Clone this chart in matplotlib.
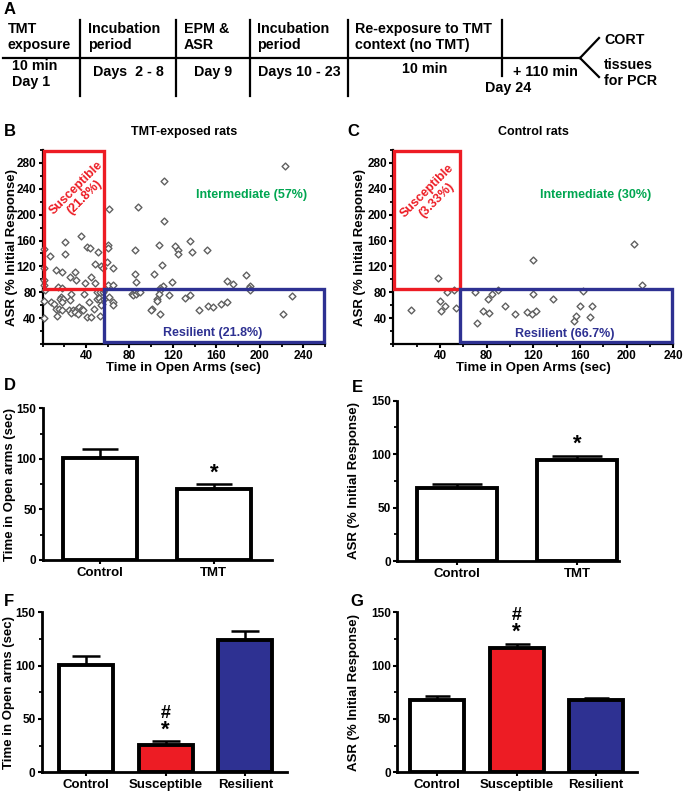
import matplotlib
matplotlib.use("Agg")
import matplotlib.pyplot as plt
from matplotlib.patches import Rectangle
import numpy as np

plt.rcParams['font.family'] = ['Liberation Sans', 'DejaVu Sans']
plt.rcParams['font.weight'] = 'bold'
plt.rcParams['axes.labelweight'] = 'bold'
plt.rcParams['axes.titleweight'] = 'bold'

# ---------------- data ----------------
# Panel B: TMT-exposed rats (time in open arms, ASR %)
tmt_time = [1, 7, 21, 21, 35, 41, 44, 51, 48, 54, 56, 12, 18, 30, 25, 31, 45, 39, 48, 14, 18, 1, 1, 1,
            60, 60, 61, 59, 65, 60, 65, 88, 112, 112, 107, 85, 122, 125, 125, 110, 85, 103, 86, 119, 111,
            223, 136, 138, 151, 187, 170, 175, 191, 108, 190,
            2, 26, 38, 50, 53, 56, 57, 17, 16, 19, 18, 25, 43, 50, 52, 54, 55, 57, 1, 8, 11, 12, 15, 18,
            24, 28, 32, 34, 36, 37, 47, 54, 13, 26, 30, 33, 41, 45, 53, 1,
            61, 65, 65, 82, 83, 86, 88, 90, 108, 107, 116, 105, 105, 101, 100, 108, 131, 136, 144, 152,
            157, 164, 170, 191, 230, 221]
tmt_asr = [147, 136, 157, 139, 167, 150, 148, 142, 124, 120, 117, 115, 112, 111, 103, 99, 104, 95, 95, 88, 87, 118, 99, 92,
           153, 148, 208, 127, 118, 92, 91, 212, 252, 190, 153, 146, 152, 145, 139, 122, 109, 109, 96, 96, 90,
           276, 160, 143, 145, 106, 97, 93, 89, 87, 87,
           84, 78, 78, 80, 81, 81, 84, 73, 70, 70, 65, 68, 65, 70, 71, 67, 62, 69, 67, 65, 62, 54, 54, 53,
           52, 53, 54, 57, 54, 52, 54, 60, 43, 48, 49, 47, 42, 42, 44, 40,
           72, 65, 61, 78, 76, 77, 80, 81, 84, 78, 76, 70, 67, 54, 52, 46, 71, 76, 53, 58,
           57, 62, 65, 84, 75, 47]

# Panel C: control rats
ctrl_time = [38, 15, 40, 44, 41, 46, 52, 54, 120, 206, 213,
             70, 72, 77, 82, 81, 85, 90, 96, 104, 115, 119, 122, 120, 137, 155, 157, 160, 163, 170, 169]
ctrl_asr = [102, 53, 67, 59, 51, 81, 83, 56, 130, 154, 92,
            81, 32, 51, 48, 69, 78, 84, 59, 47, 49, 46, 51, 78, 70, 35, 43, 58, 82, 58, 41]

time_cut = 57
asr_cut = 85
tmt_labels = ["Susceptible\n(21.8%)", "Intermediate (57%)", "Resilient (21.8%)"]
ctrl_labels = ["Susceptible\n(3.33%)", "Intermediate (30%)", "Resilient (66.7%)"]

# Panels D-G
de_groups = ["Control", "TMT"]
d_means = [101, 70.5]
d_sem = [8.5, 4.5]
e_means = [68.2, 94.5]
e_sem = [4.1, 3.6]
fg_groups = ["Control", "Susceptible", "Resilient"]
f_means = [101, 26, 124]
f_sem = [8.3, 3.2, 8.5]
g_means = [67.5, 116.5, 68]
g_sem = [4.4, 4.0, 1.8]

RED = '#ED1C24'
BLUE = '#2E3192'
GREEN = '#00A651'
W, H = 685, 792

fig = plt.figure(figsize=(W / 100, H / 100), dpi=100)


def px_axes(left, right, top, bottom):
    return fig.add_axes([left / W, 1 - bottom / H, (right - left) / W, (bottom - top) / H])


# ---------------- panel A: timeline ----------------
axA = fig.add_axes([0, 1 - 110 / H, 1, 110 / H])
axA.set_xlim(0, W)
axA.set_ylim(110, 0)
axA.axis('off')
tl_kw = dict(color='black', lw=1.6)
axA.plot([3, 580], [58, 58], **tl_kw)
for xs in [80, 176, 250, 348]:
    axA.plot([xs, xs], [20, 96], **tl_kw)
axA.plot([502, 502], [20, 76], **tl_kw)
axA.plot([580, 599], [58, 38], **tl_kw)
axA.plot([580, 599], [58, 77], **tl_kw)
fs_tl = 10.3
top_txt = [(8, "TMT\nexposure"), (88, "Incubation\nperiod"), (184, "EPM &\nASR"),
           (257, "Incubation\nperiod"), (355, "Re-exposure to TMT\ncontext (no TMT)")]
for x, t in top_txt:
    axA.text(x, 37, t, ha='left', va='center', fontsize=fs_tl, linespacing=1.25)
axA.text(12, 74, "10 min\nDay 1", ha='left', va='center', fontsize=fs_tl, linespacing=1.25)
axA.text(128, 72, "Days  2 - 8", ha='center', va='center', fontsize=fs_tl)
axA.text(213, 72, "Day 9", ha='center', va='center', fontsize=fs_tl)
axA.text(299, 72, "Days 10 - 23", ha='center', va='center', fontsize=fs_tl)
axA.text(425, 69, "10 min", ha='center', va='center', fontsize=fs_tl)
axA.text(545, 72, "+ 110 min", ha='center', va='center', fontsize=fs_tl)
axA.text(508, 88, "Day 24", ha='center', va='center', fontsize=fs_tl)
axA.text(604, 40, "CORT", ha='left', va='center', fontsize=fs_tl)
axA.text(604, 73, "tissues\nfor PCR", ha='left', va='center', fontsize=fs_tl, linespacing=1.25)

# ---------------- scatter panels ----------------
fs_tick = 8.5
fs_lab = 9.5


def style_axes(ax):
    for s in ['top', 'right']:
        ax.spines[s].set_visible(False)
    for s in ['left', 'bottom']:
        ax.spines[s].set_linewidth(1.6)
    ax.tick_params(which='major', length=3, width=1.5, labelsize=fs_tick, direction='out', pad=1.5)
    ax.tick_params(which='minor', length=2.5, width=1.3, direction='out')


def scatter_panel(ax, xs, ys, xmax, labels, title, lab_pos):
    ax.scatter(xs, ys, marker='D', s=12, facecolors='white', edgecolors='#606060',
               linewidths=1.0, zorder=3, clip_on=False)
    ax.set_xlim(0, xmax)
    ax.set_ylim(0, 300)
    ax.set_xticks(np.arange(40, 241, 40))
    ax.set_xticks(np.arange(0, xmax + 1, 20), minor=True)
    ax.set_yticks(np.arange(40, 281, 40))
    ax.set_yticks(np.arange(0, 301, 20), minor=True)
    style_axes(ax)
    ax.add_patch(Rectangle((1, asr_cut), time_cut - 1, 298 - asr_cut, fill=False,
                           edgecolor=RED, lw=2.4, zorder=4, clip_on=False))
    ax.add_patch(Rectangle((time_cut, 3), xmax - time_cut - 1, asr_cut - 3, fill=False,
                           edgecolor=BLUE, lw=2.4, zorder=4, clip_on=False))
    (sx, sy), (ix, iy), (rx, ry) = lab_pos
    ax.text(sx, sy, labels[0], color=RED, fontsize=9, rotation=45, ha='center', va='center',
            rotation_mode='anchor', linespacing=1.1)
    ax.text(ix, iy, labels[1], color=GREEN, fontsize=9, ha='center', va='center')
    ax.text(rx, ry, labels[2], color=BLUE, fontsize=9, ha='center', va='center')
    ax.set_xlabel("Time in Open Arms (sec)", fontsize=fs_lab, labelpad=0)
    ax.set_ylabel("ASR (% Initial Response)", fontsize=fs_lab)
    ax.set_title(title, fontsize=9, pad=11)


axB = px_axes(42.5, 325, 150, 344)
scatter_panel(axB, tmt_time, tmt_asr, 260, tmt_labels, "TMT-exposed rats",
              [(35, 234), (192, 230), (157, 17)])
axB.yaxis.set_label_coords((18 - 42.5) / (325 - 42.5), 0.5)

axC = px_axes(393.3, 673.3, 150, 344)
scatter_panel(axC, ctrl_time, ctrl_asr, 240, ctrl_labels, "Control rats",
              [(33, 230), (173, 230), (147, 16)])
axC.yaxis.set_label_coords((366 - 393.3) / (673.3 - 393.3), 0.5)


# ---------------- bar panels ----------------
def bar_panel(ax, groups, means, sems, colors, width, xlim, cap):
    x = np.arange(len(groups))
    ax.errorbar(x, means, yerr=[np.zeros(len(means)), sems], fmt='none', ecolor='black',
                elinewidth=1.8, capsize=cap, capthick=1.8, zorder=1)
    ax.bar(x, means, width=width, color=colors, edgecolor='black', linewidth=2.8, zorder=2)
    ax.set_xlim(*xlim)
    ax.set_ylim(0, 150)
    ax.set_yticks([0, 50, 100, 150])
    ax.set_yticks(np.arange(0, 151, 25), minor=True)
    ax.set_xticks(x)
    ax.set_xticklabels(groups, fontsize=fs_lab)
    style_axes(ax)
    ax.tick_params(axis='x', labelsize=fs_lab, pad=2)
    for s in ['left', 'bottom']:
        ax.spines[s].set_linewidth(2)


axD = px_axes(42.7, 272, 408.3, 560)
bar_panel(axD, de_groups, d_means, d_sem, ['white', 'white'], 0.65, (-0.5, 1.51), 13)
axD.set_ylabel("Time in Open arms (sec)", fontsize=fs_lab)
axD.yaxis.set_label_coords((16 - 42.7) / (272 - 42.7), 0.5)
axD.text(1, 86, "*", ha='center', va='center', fontsize=16)

axE = px_axes(397.3, 619, 400.7, 561)
bar_panel(axE, de_groups, e_means, e_sem, ['white', 'white'], 0.67, (-0.5, 1.35), 18)
axE.set_ylabel("ASR (% Initial Response)", fontsize=fs_lab)
axE.yaxis.set_label_coords((360 - 397.3) / (619 - 397.3), 0.5)
axE.text(1, 109, "*", ha='center', va='center', fontsize=16)

axF = px_axes(41.7, 286.7, 612.3, 772.3)
bar_panel(axF, fg_groups, f_means, f_sem, ['white', RED, BLUE], 0.68, (-0.56, 2.52), 10)
axF.set_ylabel("Time in Open arms (sec)", fontsize=fs_lab)
axF.yaxis.set_label_coords((15 - 41.7) / (286.7 - 41.7), 0.5)
axF.text(1, 55, "#", ha='center', va='center', fontsize=13)
axF.text(1, 39, "*", ha='center', va='center', fontsize=16)

axG = px_axes(397.3, 636.7, 612.3, 772.3)
bar_panel(axG, fg_groups, g_means, g_sem, ['white', RED, BLUE], 0.68, (-0.5, 2.51), 9)
axG.set_ylabel("ASR (% Initial Response)", fontsize=fs_lab)
axG.yaxis.set_label_coords((360 - 397.3) / (636.7 - 397.3), 0.5)
axG.text(1, 147, "#", ha='center', va='center', fontsize=13)
axG.text(1, 131, "*", ha='center', va='center', fontsize=16)

# panel letters
for lx, ly, l in [(4, 10, "A"), (4, 131, "B"), (347, 131, "C"), (4, 385, "D"),
                  (352, 387, "E"), (4, 602, "F"), (350, 602, "G")]:
    fig.text(lx / W, 1 - ly / H, l, fontsize=12, ha='left', va='center')

fig.savefig("out.png", dpi=100)
